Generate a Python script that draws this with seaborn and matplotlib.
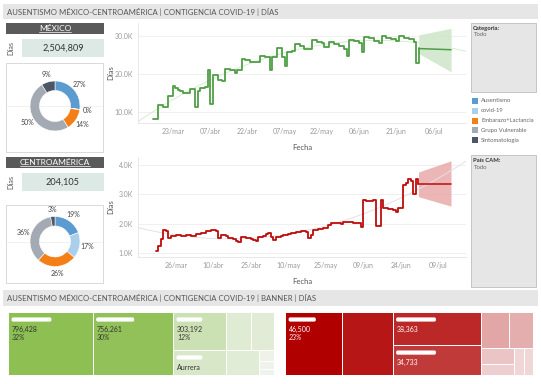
import numpy as np
import pandas as pd
import matplotlib
matplotlib.use("Agg")
import matplotlib.pyplot as plt
import matplotlib.dates as mdates
import seaborn as sns
from matplotlib.patches import Rectangle, FancyBboxPatch
from matplotlib.colors import LinearSegmentedColormap
from matplotlib.ticker import FuncFormatter, FixedLocator

# ---------------- data ----------------
categorias = ["Ausentismo", "covid-19", "Embarazo+Lactancia", "Grupo Vulnerable", "Sintomatología"]
cat_colors = ["#5b9bd0", "#a9cfeb", "#f57f17", "#a4aab4", "#4d5666"]

mx_total = 2504809
cam_total = 204105
mx_pct = [27.2, 0.3, 13.8, 49.9, 8.8]
cam_pct = [19.2, 16.8, 25.6, 35.6, 2.8]

mx_fechas = ["2020-03-15", "2020-03-17", "2020-03-19", "2020-03-21", "2020-03-23", "2020-03-24",
             "2020-03-25", "2020-03-26", "2020-03-27", "2020-03-29", "2020-03-30", "2020-04-01",
             "2020-04-02", "2020-04-03", "2020-04-05", "2020-04-06", "2020-04-07", "2020-04-08",
             "2020-04-10", "2020-04-12", "2020-04-13", "2020-04-15", "2020-04-17", "2020-04-18",
             "2020-04-20", "2020-04-21", "2020-04-23", "2020-04-25", "2020-04-27", "2020-04-29",
             "2020-04-30", "2020-05-01", "2020-05-02", "2020-05-04", "2020-05-06", "2020-05-07",
             "2020-05-08", "2020-05-10", "2020-05-11", "2020-05-13", "2020-05-15", "2020-05-18",
             "2020-05-20", "2020-05-22", "2020-05-23", "2020-05-25", "2020-05-27", "2020-05-29",
             "2020-05-31", "2020-06-01", "2020-06-02", "2020-06-04", "2020-06-06", "2020-06-07",
             "2020-06-08", "2020-06-10", "2020-06-12", "2020-06-14", "2020-06-15", "2020-06-17",
             "2020-06-19", "2020-06-21", "2020-06-22", "2020-06-24", "2020-06-26", "2020-06-28",
             "2020-06-29", "2020-06-30"]
mx_dias = [8300, 11800, 11400, 14400, 17000, 16400, 15900, 15500, 15100, 15000, 16000, 11500,
           15700, 16300, 16600, 21100, 12200, 19800, 18500, 18300, 21400, 21100, 20200, 21000,
           23900, 23600, 23300, 23200, 24800, 24400, 24500, 21100, 24400, 26900, 24600, 22100,
           25800, 26000, 27800, 27400, 26500, 29000, 28500, 28100, 27200, 28500, 27900, 27300,
           26500, 24800, 29000, 28600, 28100, 25900, 29800, 29400, 28700, 28100, 30000, 29600,
           29100, 28700, 30000, 29600, 29100, 28500, 23000, 26800]
mx_pron_fechas = ["2020-06-30", "2020-07-13"]
mx_pron = [26700, 26400]
mx_pron_min = [25400, 20600]
mx_pron_max = [30300, 32000]

cam_fechas = ["2020-03-18", "2020-03-19", "2020-03-20", "2020-03-21", "2020-03-22", "2020-03-23",
              "2020-03-24", "2020-03-26", "2020-03-28", "2020-03-30", "2020-04-01", "2020-04-03",
              "2020-04-05", "2020-04-07", "2020-04-09", "2020-04-10", "2020-04-11", "2020-04-12",
              "2020-04-13", "2020-04-15", "2020-04-16", "2020-04-18", "2020-04-19", "2020-04-20",
              "2020-04-21", "2020-04-23", "2020-04-25", "2020-04-26", "2020-04-27", "2020-04-28",
              "2020-04-30", "2020-05-01", "2020-05-02", "2020-05-03", "2020-05-04", "2020-05-05",
              "2020-05-07", "2020-05-08", "2020-05-10", "2020-05-11", "2020-05-13", "2020-05-15",
              "2020-05-17", "2020-05-18", "2020-05-19", "2020-05-20", "2020-05-22", "2020-05-24",
              "2020-05-26", "2020-05-27", "2020-05-29", "2020-05-31", "2020-06-01", "2020-06-03",
              "2020-06-05", "2020-06-07", "2020-06-08", "2020-06-09", "2020-06-10", "2020-06-12",
              "2020-06-13", "2020-06-14", "2020-06-16", "2020-06-17", "2020-06-19", "2020-06-21",
              "2020-06-22", "2020-06-23", "2020-06-25", "2020-06-26", "2020-06-27", "2020-06-28",
              "2020-06-29", "2020-06-30", "2020-07-01"]
cam_dias = [1060, 1230, 1470, 1790, 1740, 1510, 1580, 1630, 1580, 1620, 1600, 1650,
            1700, 1750, 1780, 1800, 1760, 1520, 1620, 1580, 1500, 1480, 1420, 1370,
            1550, 1510, 1490, 1450, 1410, 1550, 1600, 1660, 1700, 1550, 1440, 1550,
            1570, 1620, 1660, 1700, 1730, 1740, 1710, 1520, 1620, 1800, 1830, 1840,
            1960, 2040, 2030, 2000, 2070, 2050, 2040, 2020, 1880, 2810, 2760, 2770,
            2800, 1920, 2810, 2530, 2500, 2480, 2410, 2530, 3320, 3400, 3510, 3440,
            3010, 3510, 3350]
cam_pron_fechas = ["2020-07-01", "2020-07-14"]
cam_pron = [3350, 3350]
cam_pron_min = [2920, 2600]
cam_pron_max = [3760, 4140]

mx_ticks = ["2020-03-23", "2020-04-07", "2020-04-22", "2020-05-07", "2020-05-22", "2020-06-06",
            "2020-06-21", "2020-07-06"]
cam_ticks = ["2020-03-26", "2020-04-10", "2020-04-25", "2020-05-10", "2020-05-25", "2020-06-09",
             "2020-06-24", "2020-07-09"]

mx_banner_vals = [796428, 756261, 303192, 200000, 140000, 128000, 125000, 25000, 18000, 12928]
mx_banner_names = ["", "", "", "Aurrera", None, None, None, None, None, None]
cam_banner_vals = [46500, 42000, 38363, 34733, 13000, 11400, 6800, 4800, 3300, 3209]
cam_banner_names = ["", None, "", "", None, None, None, None, None, None]

meses = {1: "ene", 2: "feb", 3: "mar", 4: "abr", 5: "may", 6: "jun", 7: "jul", 8: "ago"}

# ---------------- style ----------------
sns.set_theme(style="white")
plt.rcParams["font.family"] = ["Lato", "DejaVu Sans"]

W, H = 541, 384
fig = plt.figure(figsize=(5.41, 3.84), dpi=100)
fig.patch.set_facecolor("white")


def fr(x0, y0, x1, y1):
    return [x0 / W, 1 - y1 / H, (x1 - x0) / W, (y1 - y0) / H]


ov = fig.add_axes([0, 0, 1, 1], zorder=0)
ov.set_xlim(0, W)
ov.set_ylim(H, 0)
ov.axis("off")


def box(x0, y0, x1, y1, fc, ec="none", lw=0.6):
    ov.add_patch(Rectangle((x0, y0), x1 - x0, y1 - y0, facecolor=fc, edgecolor=ec, lw=lw))


TXT = "#555555"
title = "AUSENTISMO MÉXICO-CENTROAMÉRICA | CONTIGENCIA COVID-19 | DÍAS"
box(3, 4, 538, 19, "#e6e6e6")
ov.text(7, 11.8, title, fontsize=5.6, color=TXT, va="center", ha="left")
box(3, 290, 538, 306, "#e6e6e6")
ov.text(7, 298.2, "AUSENTISMO MÉXICO-CENTROAMÉRICA | CONTIGENCIA COVID-19 | BANNER | DÍAS",
        fontsize=5.6, color=TXT, va="center", ha="left")


def kpi(y0, name, total, box_top, box_bot):
    box(6, y0, 104, y0 + 11, "#5a5a5a")
    t = ov.text(55, y0 + 5.7, name, fontsize=6, color="white", ha="center", va="center")
    fig.canvas.draw()
    bb = t.get_window_extent().transformed(ov.transData.inverted())
    ov.plot([bb.x0, bb.x1], [y0 + 9.4, y0 + 9.4], color="white", lw=0.5)
    box(22, y0 + 16, 104, y0 + 34, "#dce9e5")
    ov.text(11, y0 + 25, "Días", fontsize=5.2, color=TXT, rotation=90, ha="center", va="center")
    ov.text(63, y0 + 25.3, f"{total:,}", fontsize=6.6, color="#333333", ha="center", va="center")
    box(6, box_top, 103, box_bot, "white", "#d3d3d3", 0.6)


kpi(23, "MÉXICO", mx_total, 63, 152)
kpi(157, "CENTROAMÉRICA", cam_total, 205, 283)
ov.plot([7, 102], [106, 106], color="#efefef", lw=0.6)
ov.plot([7, 102], [241.5, 241.5], color="#efefef", lw=0.6)


def donut(cx, cy, pcts):
    s = 76
    ax = fig.add_axes(fr(cx - s / 2, cy - s / 2, cx + s / 2, cy + s / 2), zorder=2)
    ax.set_facecolor("none")
    labels = [f"{round(p)}%" for p in pcts]
    ax.pie(pcts, colors=cat_colors, startangle=90, counterclock=False, radius=1.0,
           wedgeprops=dict(width=0.38, edgecolor="white", linewidth=0.4),
           labels=labels, labeldistance=1.3,
           textprops=dict(fontsize=5, color="#444444", ha="center", va="center"))
    for t in ax.texts:
        t.set_ha("center")
    ax.set_xlim(-1.52, 1.52)
    ax.set_ylim(-1.52, 1.52)


donut(55, 106, mx_pct)
donut(55, 241.5, cam_pct)


def fmt_fecha(x, pos):
    d = mdates.num2date(x)
    return f"{d.day:02d}/{meses[d.month]}"


def panel(rect, fechas, dias, pf, pv, pmin, pmax, color, band, trend, xlim, ylim, yticks, ticks):
    ax = fig.add_axes(fr(*rect), zorder=2)
    ax.set_facecolor("none")
    xl = [mdates.date2num(pd.Timestamp(v)) for v in xlim]
    ax.set_xlim(*xl)
    ax.set_ylim(*ylim)
    idx = pd.to_datetime(fechas)
    s = pd.Series(dias, index=idx).resample("D").ffill()
    sns.regplot(x=mdates.date2num(s.index), y=s.values.astype(float), order=2, scatter=False,
                ci=None, truncate=False, line_kws=dict(color=trend, lw=0.7), ax=ax)
    ax.set_xlim(*xl)
    px = mdates.date2num(pd.to_datetime(pf))
    ax.fill_between(px, pmin, pmax, color=band, lw=0, alpha=0.85)
    df = pd.DataFrame({"Fecha": mdates.date2num(idx), "Días": dias})
    sns.lineplot(data=df, x="Fecha", y="Días", drawstyle="steps-post", color=color, lw=1.3, ax=ax)
    dff = pd.DataFrame({"Fecha": px, "Días": pv})
    sns.lineplot(data=dff, x="Fecha", y="Días", color=color, lw=1.1, ax=ax)
    ax.set_xlim(*xl)
    ax.set_ylim(*ylim)
    ax.xaxis.set_major_locator(FixedLocator(mdates.date2num(pd.to_datetime(ticks))))
    ax.xaxis.set_major_formatter(FuncFormatter(fmt_fecha))
    ax.yaxis.set_major_locator(FixedLocator(yticks))
    ax.yaxis.set_major_formatter(FuncFormatter(lambda v, p: f"{v / 1000:.1f}K"))
    ax.tick_params(labelsize=5, colors="#9a9a9a", length=0, pad=3.5)
    ax.grid(axis="y", color="#eeeeee", lw=0.6)
    ax.grid(axis="x", visible=False)
    for sp in ["top", "right"]:
        ax.spines[sp].set_visible(False)
    for sp in ["left", "bottom"]:
        ax.spines[sp].set_color("#e4e4e4")
        ax.spines[sp].set_linewidth(0.6)
    ax.set_xlabel("Fecha", fontsize=5.5, color=TXT)
    ax.set_ylabel("Días", fontsize=5.5, color=TXT)
    ax.xaxis.set_label_coords(0.5, -0.205)
    ax.yaxis.set_label_coords(-0.072, 0.5)
    return ax


panel((138, 23, 466, 123), mx_fechas, mx_dias, mx_pron_fechas, mx_pron, mx_pron_min, mx_pron_max,
      "#4f9e45", "#cde6c8", "#d6ecd1", ["2020-03-09", "2020-07-19"], (7200, 33400),
      [10000, 20000, 30000], mx_ticks)
panel((138, 157, 466, 257), cam_fechas, cam_dias, cam_pron_fechas, cam_pron, cam_pron_min,
      cam_pron_max, "#bd0c0c", "#e9a9a9", "#e2e2e2", ["2020-03-10 20:00", "2020-07-20"], (870, 4270),
      [1000, 2000, 3000, 4000], cam_ticks)

# filter boxes + legend
box(471, 23, 536, 92, "#e6e6e6", "#bdbdbd", 0.6)
ov.text(473, 28.3, "Categoria:", fontsize=4.2, color="#333333", va="center", fontweight="bold")
ov.text(474, 35, "Todo", fontsize=4.2, color="#666666", va="center")
for i, (c, col) in enumerate(zip(categorias, cat_colors)):
    y = 100.7 + i * 9.9
    box(472, y - 3, 478, y + 3, col)
    ov.text(481, y, c, fontsize=4.2, color="#666666", va="center")
box(471, 155, 536, 287, "#e6e6e6", "#bdbdbd", 0.6)
ov.text(473, 161, "País CAM:", fontsize=4.2, color="#333333", va="center", fontweight="bold")
ov.text(474, 167.5, "Todo", fontsize=4.2, color="#666666", va="center")


# ---------------- treemaps ----------------
def worst(row, short):
    s = sum(row)
    thick = s / short
    return max(max(thick / (a / thick), (a / thick) / thick) for a in row)


def squarify(vals, x, y, w, h, thresh=3.1):
    areas = [v * w * h / sum(vals) for v in vals]
    rects = []
    i = 0
    while i < len(areas):
        short = min(w, h)
        row = [areas[i]]
        j = i + 1
        while j < len(areas):
            cand = row + [areas[j]]
            wc, wo = worst(cand, short), worst(row, short)
            if wc <= wo or wc <= thresh:
                row = cand
                j += 1
            else:
                break
        thick = sum(row) / short
        if w >= h:
            yy = y
            for a in row:
                rects.append((x, yy, thick, a / thick))
                yy += a / thick
            x += thick
            w -= thick
        else:
            xx = x
            for a in row:
                rects.append((xx, y, a / thick, thick))
                xx += a / thick
            y += thick
            h -= thick
        i = j
    return rects


def treemap(rect, vals, names, light, dark, tcolor, n_value, n_pct):
    ax = fig.add_axes(fr(*rect), zorder=2)
    w, h = rect[2] - rect[0], rect[3] - rect[1]
    ax.set_xlim(0, w)
    ax.set_ylim(h, 0)
    ax.axis("off")
    cmap = LinearSegmentedColormap.from_list("c", [light, dark])
    total = sum(vals)
    vmax = max(vals)
    for i, (v, (x, y, rw, rh)) in enumerate(zip(vals, squarify(vals, 0, 0, w, h))):
        ax.add_patch(Rectangle((x, y), rw, rh, facecolor=cmap(v / vmax), edgecolor="white", lw=0.7))
        nm = names[i]
        if nm is None:
            continue
        bw = min(max(rw * 0.45, 22), 38)
        ax.add_patch(FancyBboxPatch((x + 4.5, y + 6.3), bw, 2.4, boxstyle="round,pad=0.9,rounding_size=1.6",
                                    facecolor="white", edgecolor="none"))
        if nm:
            ax.text(x + 4, y + 17.3, nm, fontsize=5, color=tcolor, va="center")
        if i < n_value:
            ax.text(x + 4, y + 17.3, f"{v:,}", fontsize=5, color=tcolor, va="center")
        if i < n_pct:
            ax.text(x + 4, y + 25, f"{round(100 * v / total)}%", fontsize=5, color=tcolor,
                    va="center", style="italic")


treemap((8, 312, 274, 375), mx_banner_vals, mx_banner_names, "#f1f4ee", "#8dbf52", "#333333", 3, 3)
treemap((285, 312, 533, 375), cam_banner_vals, cam_banner_names, "#f5e6e6", "#b00000", "white", 4, 1)

fig.savefig("out.png", dpi=100, facecolor="white")
